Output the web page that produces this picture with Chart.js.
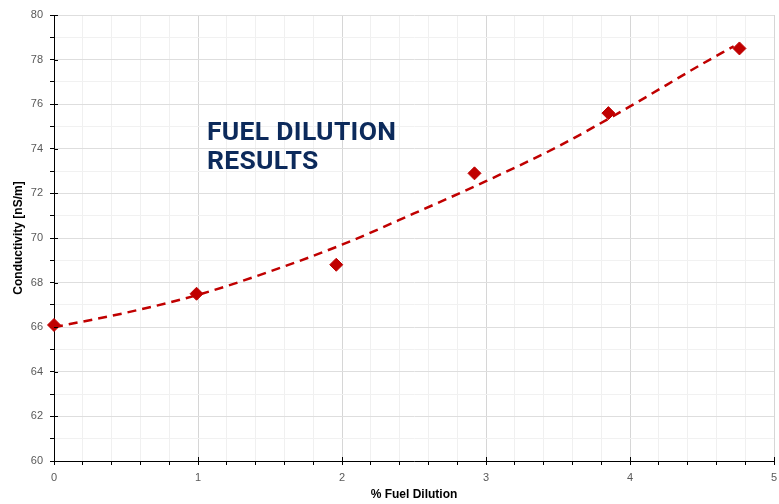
<!DOCTYPE html>
<html>
<head>
<meta charset="utf-8">
<script src="https://cdn.jsdelivr.net/npm/chart.js@4.4.1/dist/chart.umd.min.js"></script>
<style>
  html, body { margin: 0; padding: 0; background: #ffffff; }
  #wrap { position: relative; width: 779px; height: 504px; }
  #title {
    position: absolute; left: 207px; top: 116px;
    font-family: Roboto, "DejaVu Sans", sans-serif; font-weight: 700;
    font-size: 26.5px; line-height: 29px; letter-spacing: 0.3px; color: #0c2a5b;
    pointer-events: none; white-space: nowrap;
  }
</style>
</head>
<body>
<div id="wrap">
  <canvas id="c" width="779" height="504"></canvas>
  <div id="title">FUEL DILUTION<br>RESULTS</div>
</div>
<script>
const dilution = [0, 0.99, 1.96, 2.92, 3.85, 4.76];
const conductivity = [66.1, 67.5, 68.8, 72.9, 75.6, 78.5];

// Dashed trend line points
const trendX = [0, 0.5, 1, 1.5, 2, 2.5, 3, 3.5, 4, 4.5, 4.72];
const trendY = [66.0, 66.65, 67.45, 68.5, 69.7, 71.1, 72.55, 74.1, 75.9, 77.8, 78.6];

const xAxisTitle = '% Fuel Dilution';
const yAxisTitle = 'Conductivity [nS/m]';

const measured = dilution.map((x, i) => ({ x: x, y: conductivity[i] }));
const trend = trendX.map((x, i) => ({ x: x, y: trendY[i] }));

const isInt = v => Math.abs(v - Math.round(v)) < 1e-6;
const isEven = v => isInt(v) && Math.round(v) % 2 === 0;

// major tick marks cross the axis line into the plot area
const crossTicks = {
  id: 'crossTicks',
  afterDatasetsDraw(chart) {
    const { ctx, chartArea, scales } = chart;
    ctx.save();
    ctx.strokeStyle = '#000000';
    ctx.lineWidth = 1;
    ctx.beginPath();
    scales.x.ticks.forEach(t => {
      if (isInt(t.value)) {
        const px = Math.round(scales.x.getPixelForValue(t.value)) + 0.5;
        ctx.moveTo(px, chartArea.bottom - 4);
        ctx.lineTo(px, chartArea.bottom);
      }
    });
    scales.y.ticks.forEach(t => {
      if (isEven(t.value)) {
        const py = Math.round(scales.y.getPixelForValue(t.value)) + 0.5;
        ctx.moveTo(chartArea.left, py);
        ctx.lineTo(chartArea.left + 4, py);
      }
    });
    ctx.stroke();
    ctx.restore();
  }
};

new Chart(document.getElementById('c'), {
  type: 'scatter',
  data: {
    datasets: [
      {
        label: 'Trend',
        data: trend,
        showLine: true,
        borderColor: '#c00000',
        borderWidth: 2.5,
        borderDash: [9, 6],
        pointRadius: 0,
        cubicInterpolationMode: 'monotone',
        fill: false,
        order: 2
      },
      {
        label: 'Measured',
        data: measured,
        showLine: false,
        pointStyle: 'rectRot',
        pointRadius: 6.5,
        pointBackgroundColor: '#c00000',
        pointBorderColor: '#c00000',
        pointBorderWidth: 1,
        clip: false,
        order: 1
      }
    ]
  },
  plugins: [crossTicks],
  options: {
    responsive: false,
    animation: false,
    devicePixelRatio: 1,
    layout: { autoPadding: false, padding: { top: 15, right: 0, left: 0, bottom: 0 } },
    plugins: { legend: { display: false }, tooltip: { enabled: false } },
    scales: {
      x: {
        type: 'linear',
        min: 0, max: 5,
        afterFit: s => { s.height = 43; s.paddingLeft = 0; s.paddingRight = 5; },
        border: { display: true, color: '#000000', width: 1 },
        grid: {
          color: ctx => isInt(ctx.tick.value) ? '#d6d6d6' : '#f0f0f0',
          tickColor: '#000000',
          tickLength: 4,
          lineWidth: 1
        },
        ticks: {
          stepSize: 0.2,
          autoSkip: false,
          maxRotation: 0,
          padding: 6,
          color: '#595959',
          font: { family: '"Liberation Sans", Arial, sans-serif', size: 11 },
          callback: v => isInt(v) ? String(Math.round(v)) : ''
        },
        title: {
          display: true,
          text: xAxisTitle,
          color: '#000000',
          font: { family: '"Liberation Sans", Arial, sans-serif', size: 12, weight: 'bold' },
          padding: { top: 0, bottom: 2 }
        }
      },
      y: {
        type: 'linear',
        min: 60, max: 80,
        afterFit: s => { s.width = 54; },
        border: { display: true, color: '#000000', width: 1 },
        grid: {
          color: ctx => isEven(ctx.tick.value) ? '#dedede' : '#f1f1f1',
          tickColor: '#000000',
          tickLength: 4,
          lineWidth: 1
        },
        ticks: {
          stepSize: 1,
          autoSkip: false,
          padding: 7,
          color: '#595959',
          font: { family: '"Liberation Sans", Arial, sans-serif', size: 11 },
          callback: v => isEven(v) ? String(Math.round(v)) : ''
        },
        title: {
          display: true,
          text: yAxisTitle,
          color: '#000000',
          font: { family: '"Liberation Sans", Arial, sans-serif', size: 12, weight: 'bold' },
          padding: { top: 11, bottom: 0 }
        }
      }
    }
  }
});
</script>
</body>
</html>
